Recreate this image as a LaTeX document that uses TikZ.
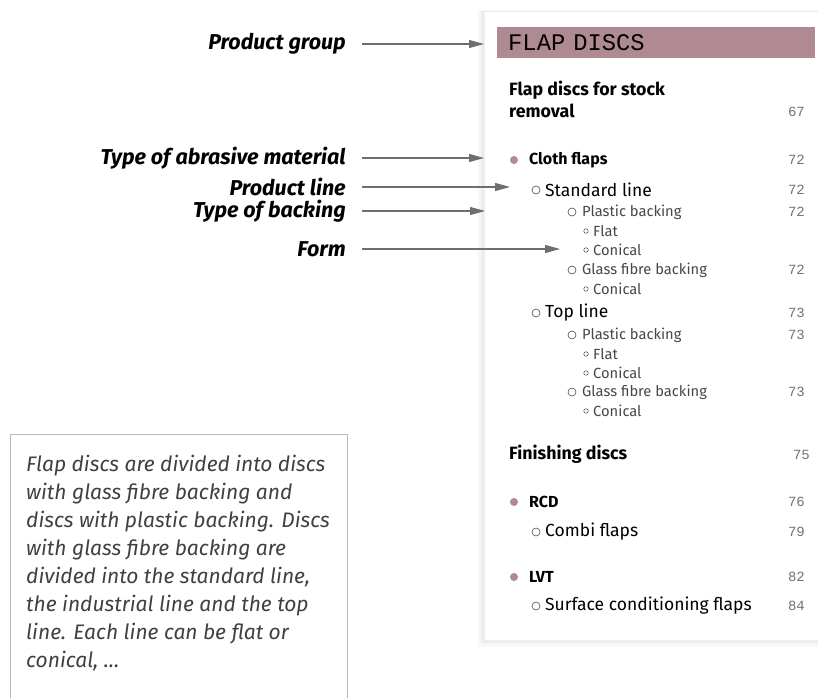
\documentclass[tikz,border=0pt]{standalone}
\usepackage{fontspec}
\setmainfont{Fira Sans}
\newfontfamily\typefont{Liberation Mono}
\usetikzlibrary{arrows.meta, positioning}
\definecolor{mauve}{HTML}{B08A93}
\definecolor{arrowgrey}{HTML}{6E6E6E}

\begin{document}
\begin{tikzpicture}[x=1pt, y=-1pt,
    legend/.style={anchor=east, outer xsep=13pt, font=\fontsize{21.5}{22}\selectfont\bfseries\itshape},
    pointer/.style={-{Triangle[length=15pt, width=8pt]}, arrowgrey, line width=1.1pt},
    header/.style={anchor=north west, fill=mauve, minimum width=318pt, minimum height=31pt, inner xsep=11pt, text width=296pt, font=\typefont\fontsize{23.8}{24}\selectfont},
    group/.style={anchor=west, inner sep=0pt, align=left, font=\fontsize{17.8}{22}\selectfont\bfseries},
    material/.style={anchor=west, inner sep=0pt, font=\fontsize{16}{17}\selectfont\bfseries},
    pline/.style={anchor=west, inner sep=0pt, font=\fontsize{17.5}{18}\selectfont},
    backing/.style={anchor=west, inner sep=0pt, font=\fontsize{14.7}{16}\selectfont, text=black!72},
    form/.style={anchor=west, inner sep=0pt, font=\fontsize{14.7}{16}\selectfont, text=black!72},
    page/.style={anchor=east, inner sep=0pt, font=\typefont\fontsize{14}{16}\selectfont, text=black!55},
    dot/.style={circle, fill=mauve, minimum size=8pt, inner sep=0pt},
    ring/.style={circle, draw=black!70, line width=0.6pt, minimum size=8pt, inner sep=0pt},
    smallring/.style={circle, draw=black!70, line width=0.5pt, minimum size=4.5pt, inner sep=0pt},
    notebox/.style={draw=black!28, line width=0.8pt},
    note/.style={anchor=north west, inner sep=0pt, align=left, text=black!75, font=\fontsize{21}{28}\selectfont\itshape}]

\useasboundingbox (0,0) rectangle (818,697);

%
\fill[black!3] (478,10) rectangle (818,647);
\fill[black!7] (481,11) rectangle (818,643);
\fill[white] (485,12) rectangle (818,640);
\node[header] (hdr) at (497,27) {FLAP DISCS};

%
\node[legend] (pg)   at (362,44)  {Product group};
\node[legend] (abr)  at (362,158) {Type of abrasive material};
\node[legend] (pl)   at (362,187) {Product line};
\node[legend] (bk)   at (362,211) {Type of backing};
\node[legend] (frm)  at (362,249) {Form};
\coordinate (pg-end)  at (484,44);
\coordinate (abr-end) at (484,158);
\coordinate (pl-end)  at (510,187);
\coordinate (bk-end)  at (485,211);
\coordinate (frm-end) at (560,249);
\draw[pointer] (pg.east)  -- (pg-end);
\draw[pointer] (abr.east) -- (abr-end);
\draw[pointer] (pl.east)  -- (pl-end);
\draw[pointer] (bk.east)  -- (bk-end);
\draw[pointer] (frm.east) -- (frm-end);

%
\node[group] (stock) at (509,99) {Flap discs for stock\\removal};
\node[page] at (805,112) {67};

\node[dot] (d1) at (514,160) {};
\node[material] (cloth) at (529,160) {Cloth flaps};
\node[page] at (805,160) {72};

\node[ring] (r1) at (536,190) {};
\node[pline] (std) at (545,190) {Standard line};
\node[page] at (805,190) {72};
\node[ring] (r2) at (572,212) {};
\node[backing] at (582,212) {Plastic backing};
\node[page] at (805,212) {72};
\node[smallring] at (586,231) {};
\node[form] at (593,231) {Flat};
\node[smallring] at (586,250) {};
\node[form] at (593,250) {Conical};
\node[ring] at (572,270) {};
\node[backing] at (582,270) {Glass fibre backing};
\node[page] at (805,270) {72};
\node[smallring] at (586,289) {};
\node[form] at (593,289) {Conical};

\node[ring] (r3) at (536,313) {};
\node[pline] (top) at (545,313) {Top line};
\node[page] at (805,313) {73};
\node[ring] at (572,335) {};
\node[backing] at (582,335) {Plastic backing};
\node[page] at (805,335) {73};
\node[smallring] at (586,354) {};
\node[form] at (593,354) {Flat};
\node[smallring] at (586,373) {};
\node[form] at (593,373) {Conical};
\node[ring] at (572,392) {};
\node[backing] at (582,392) {Glass fibre backing};
\node[page] at (805,392) {73};
\node[smallring] at (586,411) {};
\node[form] at (593,411) {Conical};

%
\node[group] (fin) at (509,454) {Finishing discs};
\node[page] at (810,455) {75};

\node[dot] at (514,502) {};
\node[material] (rcd) at (529,502) {RCD};
\node[page] at (805,502) {76};
\node[ring] at (536,532) {};
\node[pline] at (545,532) {Combi flaps};
\node[page] at (805,532) {79};

\node[dot] at (514,577) {};
\node[material] (lvt) at (529,577) {LVT};
\node[page] at (805,577) {82};
\node[ring] at (536,606) {};
\node[pline] at (545,606) {Surface conditioning flaps};
\node[page] at (805,606) {84};

%
\draw[notebox] (10,698) -- (10,434) -- (347,434) -- (347,698);
\node[note] (txt) at (26,455) {Flap discs are divided into discs\\
  with glass fibre backing and\\
  discs with plastic backing. Discs\\
  with glass fibre backing are\\
  divided into the standard line,\\
  the industrial line and the top\\
  line. Each line can be flat or\\
  conical, \ldots};
\end{tikzpicture}
\end{document}
